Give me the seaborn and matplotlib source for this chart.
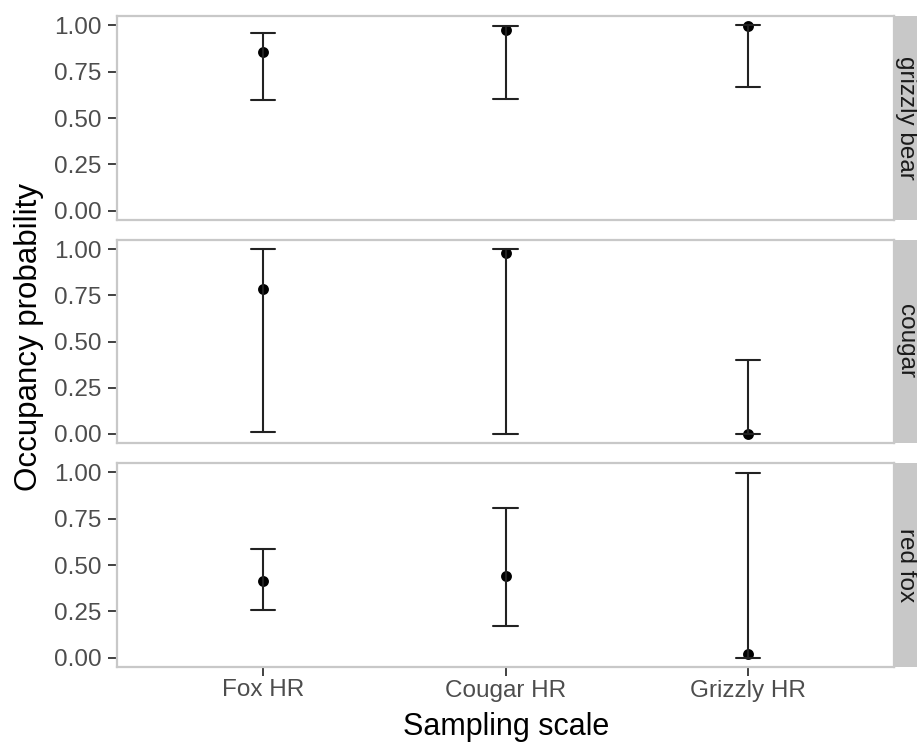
import numpy as np
import pandas as pd
import matplotlib
matplotlib.use("Agg")
import matplotlib.pyplot as plt
import seaborn as sns

# Occupancy estimates with 95% interval bounds, per species and sampling scale
scales = ["Fox HR", "Cougar HR", "Grizzly HR"]
species = ["grizzly bear", "cougar", "red fox"]

est_grizzly = [0.857, 0.973, 0.998]
lo_grizzly = [0.599, 0.603, 0.665]
hi_grizzly = [0.959, 0.998, 1.000]

est_cougar = [0.787, 0.977, 0.000]
lo_cougar = [0.011, 0.000, 0.000]
hi_cougar = [1.000, 1.000, 0.400]

est_fox = [0.412, 0.439, 0.018]
lo_fox = [0.260, 0.170, 0.000]
hi_fox = [0.586, 0.810, 0.998]

yticks = [0.00, 0.25, 0.50, 0.75, 1.00]

estimates = {"grizzly bear": (lo_grizzly, est_grizzly, hi_grizzly),
             "cougar": (lo_cougar, est_cougar, hi_cougar),
             "red fox": (lo_fox, est_fox, hi_fox)}

# Long table: each (species, scale) has lower, estimate and upper rows.
# median -> estimate, 0-100 percentile interval -> lower..upper bounds.
rows = []
for sp in species:
    for part in estimates[sp]:
        for sc, v in zip(scales, part):
            rows.append({"species": sp, "scale": sc, "occ": v})
df = pd.DataFrame(rows)

sns.set_theme(style="white")
plt.rcParams["font.family"] = ["Liberation Sans", "DejaVu Sans"]

W, H = 917, 743
fig = plt.figure(figsize=(W / 100, H / 100), dpi=100)

left, right = 117, 894
panels = [(16, 220), (240, 443), (463, 667)]
border = "#c8c8c8"
tick_col = "#4d4d4d"
lab_size = 17.5

for i, (sp, (top, bot)) in enumerate(zip(species, panels)):
    ax = fig.add_axes([left / W, 1 - bot / H, (right - left) / W, (bot - top) / H])
    sub = df[df["species"] == sp]
    sns.pointplot(data=sub, x="scale", y="occ", order=scales,
                  estimator="median", errorbar=("pi", 100),
                  capsize=0.1, color="black", linestyle="none",
                  marker="o", markersize=5.8,
                  err_kws={"linewidth": 1.5, "color": "#222222"}, ax=ax)
    ax.set_xlim(-0.6, 2.6)
    ax.set_ylim(-0.05, 1.05)
    ax.set_yticks(yticks)
    ax.set_yticklabels([f"{t:.2f}" for t in yticks])
    ax.set_xlabel("")
    ax.set_ylabel("")
    for s in ax.spines.values():
        s.set_color(border)
        s.set_linewidth(1.6)
    ax.tick_params(axis="y", left=True, length=6.5, width=1.3, color="#333333",
                   labelsize=lab_size, labelcolor=tick_col, pad=4.5)
    if i < 2:
        ax.tick_params(axis="x", bottom=False, labelbottom=False)
    else:
        ax.tick_params(axis="x", bottom=True, length=6.5, width=1.3, color="#333333",
                       labelsize=lab_size, labelcolor=tick_col, pad=2.5)

    # facet strip on the right
    sax = fig.add_axes([right / W, 1 - bot / H, 40 / W, (bot - top) / H])
    sax.set_facecolor("#c8c8c8")
    sax.set_xticks([])
    sax.set_yticks([])
    for s in sax.spines.values():
        s.set_visible(False)
    fig.text(906 / W, 1 - (top + bot) / 2 / H, sp, rotation=-90,
             ha="center", va="center", fontsize=lab_size, color="#1a1a1a")

fig.text(506 / W, 1 - 735 / H, "Sampling scale", ha="center", va="baseline",
         fontsize=22, color="black")
fig.text(29 / W, 1 - 337 / H, "Occupancy probability", ha="center", va="center",
         rotation=90, fontsize=22.5, color="black")

fig.savefig("out.png", dpi=100, facecolor="white")
